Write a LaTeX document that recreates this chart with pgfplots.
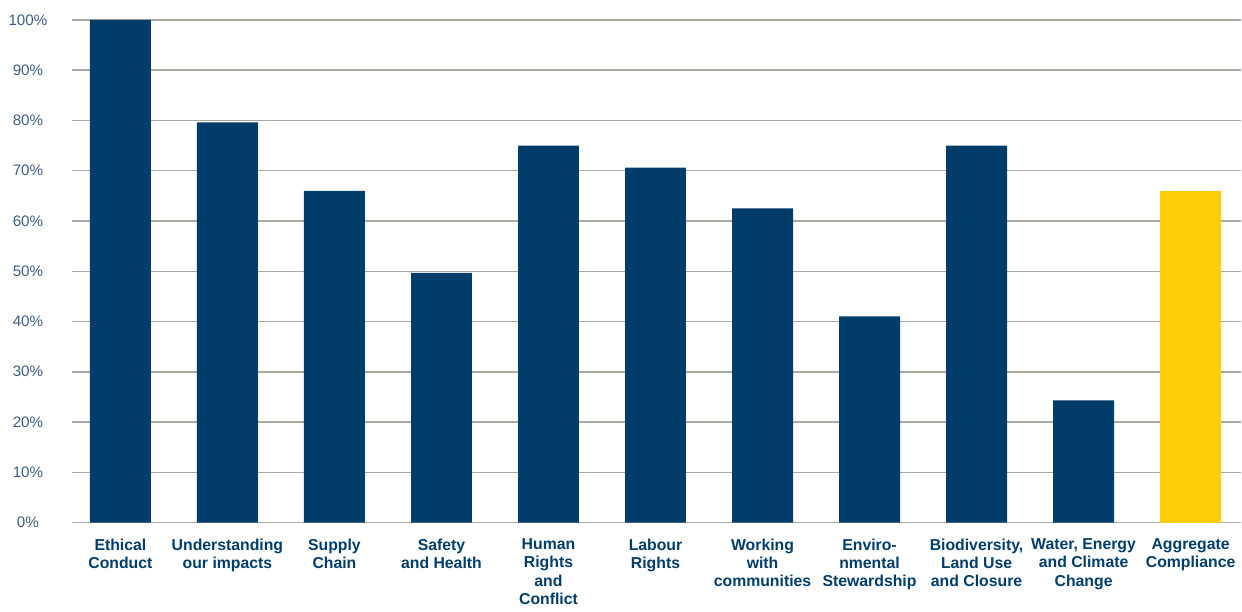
\documentclass[border=0pt]{standalone}
\usepackage{fontspec}
\setmainfont{Liberation Sans}
\usepackage{pgfplots}
\pgfplotsset{compat=1.18}
\definecolor{navy}{HTML}{003D6B}
\definecolor{tickblue}{HTML}{3C5E86}
\definecolor{gold}{HTML}{FFCC08}
\definecolor{gridgray}{HTML}{A9A99E}
\begin{document}
\begin{tikzpicture}
\path (-36pt,-41.5pt) rectangle (585pt,261.5pt);
\begin{axis}[
  at={(0,0)}, anchor=south west,
  scale only axis,
  width=585pt, height=251.5pt,
  xmin=-0.453, xmax=10.47,
  ymin=0, ymax=100,
  axis line style={draw=none},
  major tick length=0pt,
  ymajorgrids,
  grid style={gridgray, line width=0.75pt},
  ytick={0,10,...,100},
  yticklabels={0\%,10\%,20\%,30\%,40\%,50\%,60\%,70\%,80\%,90\%,100\%},
  yticklabel style={anchor=center, xshift=-22pt, font=\fontsize{7.6}{9}\selectfont, text=tickblue},
  xtick={0,...,10},
  xticklabels={{Ethical\\Conduct}, {Understanding\\our impacts}, {Supply\\Chain}, {Safety\\and Health}, {Human\\Rights\\and\\Conflict}, {Labour\\Rights}, {Working\\with\\communities}, {Enviro-\\nmental\\Stewardship}, {Biodiversity,\\Land Use\\and Closure}, {Water, Energy\\and Climate\\Change}, {Aggregate\\Compliance}},
  xticklabel style={align=center, anchor=north, yshift=-4.5pt, font=\fontsize{7.9}{9.25}\selectfont\bfseries, text=navy},
  ybar, bar width=30.5pt, bar shift=0pt,
  clip=false,
]
\addplot[fill=navy, draw=none] coordinates {
 (0,100) (1,79.6) (2,66) (3,49.7) (4,75) (5,70.6) (6,62.5) (7,41) (8,75) (9,24.3)
};
\addplot[fill=gold, draw=none] coordinates {(10,66)};
\end{axis}
\end{tikzpicture}
\end{document}
